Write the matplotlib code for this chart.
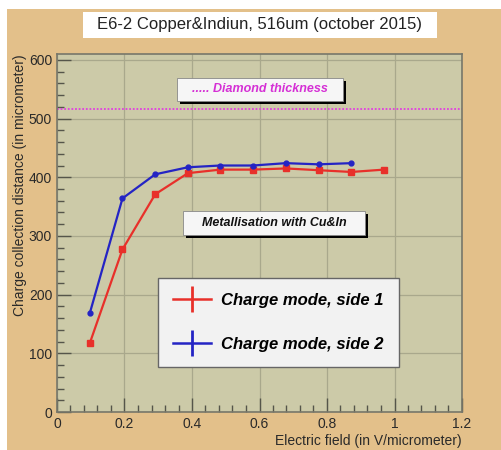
import matplotlib
matplotlib.use('Agg')
import matplotlib.pyplot as plt
from matplotlib.patches import Rectangle
from matplotlib.lines import Line2D
from matplotlib.ticker import MultipleLocator

plt.rcParams['font.family'] = ['Liberation Sans', 'DejaVu Sans']

# electric field (V/micrometer) and charge collection distance (micrometer)
champ_1 = [0.097, 0.194, 0.291, 0.388, 0.484, 0.581, 0.678, 0.775, 0.872, 0.969]
ccd_1 = [117, 277, 371, 407, 413, 413, 415, 412, 409, 413]
champ_2 = [0.097, 0.194, 0.291, 0.388, 0.484, 0.581, 0.678, 0.775, 0.872]
ccd_2 = [168, 364, 405, 417, 420, 420, 424, 422, 424]
epaisseur = 516

W, H = 502, 450

def px(x, y):
    return x / W, 1 - y / H

fundo = '#E3C08A'
fig = plt.figure(figsize=(W / 100, H / 100), dpi=100, facecolor='white')
fig.patches.append(Rectangle(px(7, H), (W - 7) / W, (H - 9) / H, transform=fig.transFigure,
                             facecolor=fundo, edgecolor='none', zorder=-10))

ax = fig.add_axes([57 / W, 1 - 412 / H, (462 - 57) / W, (412 - 54) / H])
ax.set_facecolor('#CCCAA8')
ax.set_xlim(0, 1.2)
ax.set_ylim(0, 610)
ax.xaxis.set_major_locator(MultipleLocator(0.2))
ax.xaxis.set_minor_locator(MultipleLocator(0.04))
ax.yaxis.set_major_locator(MultipleLocator(100))
ax.yaxis.set_minor_locator(MultipleLocator(20))
ax.tick_params(which='both', direction='in', colors='#55554a', labelcolor='#2a2a2a', labelsize=10)
ax.tick_params(which='major', length=10, width=1)
ax.tick_params(which='minor', length=5, width=1)
ax.xaxis.set_major_formatter(plt.FuncFormatter(lambda v, p: ('%g' % round(v, 2))))
ax.grid(True, which='major', color='#a9a88c', linewidth=0.9)
ax.set_axisbelow(True)
for s in ax.spines.values():
    s.set_color('#77776a')
    s.set_linewidth(1.2)

ax.axhline(epaisseur, color='#E040E0', linestyle=(0, (1, 1)), linewidth=1.3)
ax.plot(champ_1, ccd_1, color='#E8302A', linewidth=1.6, marker='s', markersize=4, zorder=3)
ax.plot(champ_2, ccd_2, color='#2424C4', linewidth=1.6, marker='o', markersize=3.5, zorder=3)

ax.set_xlabel('Electric field (in V/micrometer)', fontsize=10, color='#2a2a2a', loc='right', labelpad=2)
ax.set_ylabel('Charge collection distance (in micrometer)', fontsize=10, color='#2a2a2a', loc='top', labelpad=1)

# titre
fig.patches.append(Rectangle(px(83, 38), (437 - 83) / W, 26 / H, transform=fig.transFigure,
                             facecolor='white', edgecolor='none', zorder=1))
fig.text(*px(260, 25), 'E6-2 Copper&Indiun, 516um (october 2015)', ha='center', va='center',
         fontsize=12, color='#222222', zorder=2)

def caixa(x0, y0, x1, y1, texto, cor, tam):
    fig.patches.append(Rectangle(px(x0 + 3, y1 + 3), (x1 - x0) / W, (y1 - y0) / H,
                                 transform=fig.transFigure, facecolor='black', edgecolor='none', zorder=4))
    fig.patches.append(Rectangle(px(x0, y1), (x1 - x0) / W, (y1 - y0) / H,
                                 transform=fig.transFigure, facecolor='#F6F6F6', edgecolor='#888888',
                                 linewidth=0.6, zorder=5))
    fig.text(*px((x0 + x1) / 2, (y0 + y1) / 2), texto, ha='center', va='center', fontsize=tam,
             color=cor, fontweight='bold', fontstyle='italic', zorder=6)

caixa(177, 78, 343, 101, '..... Diamond thickness', '#D530D5', 9)
caixa(183, 211, 365, 235, 'Metallisation with Cu&In', '#111111', 9)

handles = [Line2D([], [], color='#E8302A', linewidth=1.8, marker='|', markersize=19, markeredgewidth=2),
           Line2D([], [], color='#2424C4', linewidth=1.8, marker='|', markersize=19, markeredgewidth=2)]
leg = fig.legend(handles, ['Charge mode, side 1', 'Charge mode, side 2'],
                 loc='upper left', bbox_to_anchor=px(158, 278), bbox_transform=fig.transFigure,
                 prop={'size': 12, 'weight': 'bold', 'style': 'italic'},
                 fancybox=False, framealpha=1, facecolor='#F2F2F2', edgecolor='#666666',
                 handlelength=2.3, handleheight=0.7, handletextpad=0.6, labelspacing=1.75,
                 borderpad=0.9, borderaxespad=0)
leg.get_frame().set_linewidth(1)
leg.set_zorder(7)

fig.savefig('out.png', dpi=100, facecolor=fig.get_facecolor())
